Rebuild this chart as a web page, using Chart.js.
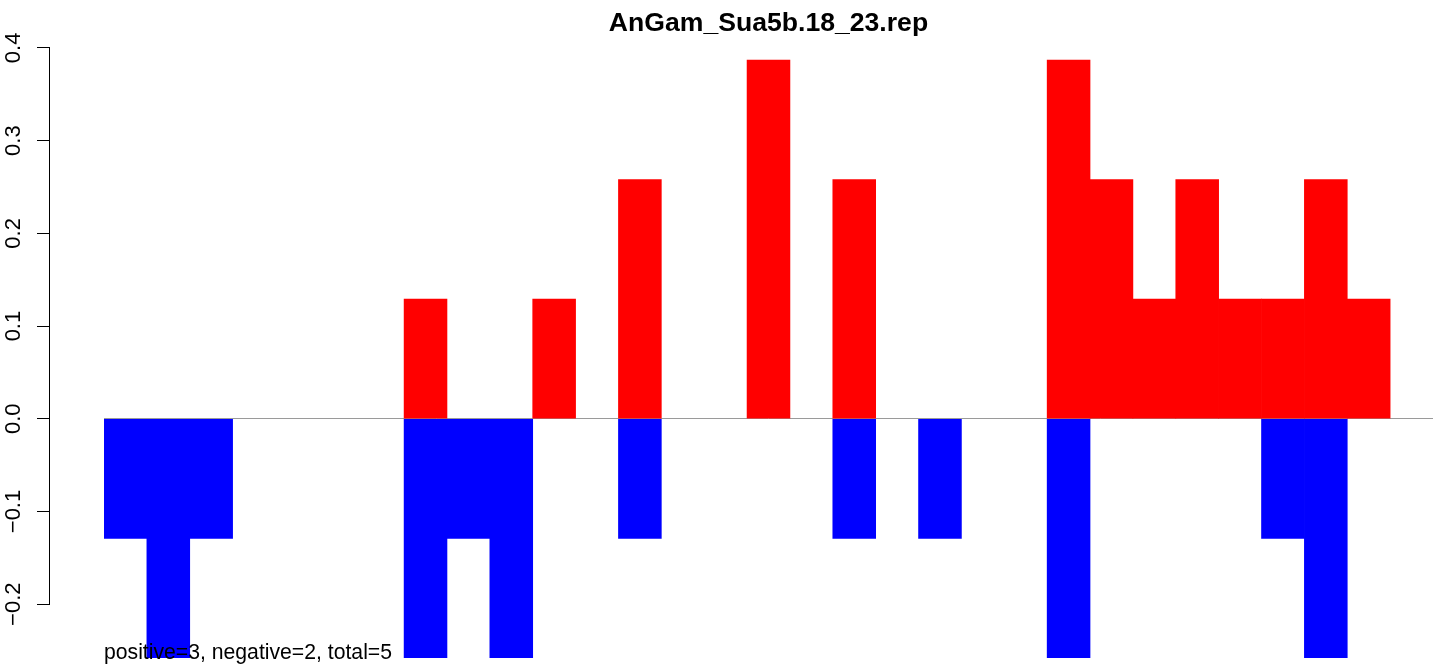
<!DOCTYPE html>
<html>
<head>
<meta charset="utf-8">
<script src="https://cdn.jsdelivr.net/npm/chart.js@4/dist/chart.umd.min.js"></script>
<style>
html, body { margin: 0; padding: 0; background: #fff; }
#wrap { width: 1433px; height: 664px; }
</style>
</head>
<body>
<div id="wrap"><canvas id="repChart"></canvas></div>
<script>
// one slot per position, last slot is empty
const slots = ['1','2','3','4','5','6','7','8','9','10','11','12','13','14','15','16',
               '17','18','19','20','21','22','23','24','25','26','27','28','29','30','31'];
const positiveValues = [0, 0, 0, 0, 0, 0, 0, 0.129, 0, 0, 0.129, 0, 0.258, 0, 0, 0.387,
                        0, 0.258, 0, 0, 0, 0, 0.387, 0.258, 0.129, 0.258, 0.129, 0.129, 0.258, 0.129, 0];
const negativeValues = [-0.129, -0.258, -0.129, 0, 0, 0, 0, -0.258, -0.129, -0.258, 0, 0, -0.129, 0, 0, 0,
                        0, -0.129, 0, -0.129, 0, 0, -0.258, 0, 0, 0, 0, -0.129, -0.258, 0, 0];
const yTicks = [-0.2, -0.1, 0, 0.1, 0.2, 0.3, 0.4];
const chartTitle = 'AnGam_Sua5b.18_23.rep';
const summaryText = 'positive=3, negative=2, total=5';

const FONT = '"Liberation Sans", Arial, Helvetica, sans-serif';

// R style axis line: only from first to last tick
const axisLine = {
    id: 'axisLine',
    afterDraw(chart) {
        const s = chart.scales.y;
        const ctx = chart.ctx;
        ctx.save();
        ctx.strokeStyle = '#000';
        ctx.lineWidth = 1;
        ctx.beginPath();
        ctx.moveTo(Math.round(s.right) - 0.5, s.getPixelForValue(yTicks[0]));
        ctx.lineTo(Math.round(s.right) - 0.5, s.getPixelForValue(yTicks[yTicks.length - 1]));
        ctx.stroke();
        ctx.restore();
    }
};

const summaryLabel = {
    id: 'summaryLabel',
    afterDatasetsDraw(chart) {
        const ctx = chart.ctx;
        ctx.save();
        ctx.fillStyle = '#000';
        ctx.font = '21.2px ' + FONT;
        ctx.textAlign = 'left';
        ctx.textBaseline = 'alphabetic';
        ctx.fillText(summaryText, chart.chartArea.left, chart.chartArea.bottom + 1);
        ctx.restore();
    }
};

new Chart(document.getElementById('repChart'), {
    type: 'bar',
    data: {
        labels: slots,
        datasets: [{
            label: 'positive',
            data: positiveValues.map(v => v === 0 ? null : v),
            backgroundColor: '#ff0000',
            borderWidth: 0,
            barPercentage: 1,
            categoryPercentage: 1,
            yAxisID: 'y'
        }, {
            label: 'negative',
            data: negativeValues.map(v => v === 0 ? null : v),
            backgroundColor: '#0000ff',
            borderWidth: 0,
            barPercentage: 1,
            categoryPercentage: 1,
            yAxisID: 'y'
        }]
    },
    options: {
        responsive: true,
        maintainAspectRatio: false,
        animation: false,
        layout: { padding: { top: 0, right: 0, bottom: 6, left: 0 } },
        plugins: {
            legend: { display: false },
            tooltip: { enabled: false },
            title: {
                display: true,
                text: chartTitle,
                fullSize: false,
                color: '#000',
                font: { family: FONT, size: 26.6, weight: 'bold' },
                padding: { top: 8, bottom: 8 }
            }
        },
        scales: {
            x: {
                display: false,
                stacked: true
            },
            y: {
                position: 'left',
                weight: 1,
                stacked: true,
                min: -0.258,
                max: 0.4,
                afterBuildTicks: s => { s.ticks = yTicks.map(v => ({ value: v })); },
                afterFit: s => { s.width = 50; s.paddingTop = 0; s.paddingBottom = 0; },
                border: { display: false },
                grid: {
                    drawOnChartArea: true,
                    tickLength: 13,
                    tickColor: '#000',
                    color: c => (c.tick && Math.abs(c.tick.value) < 1e-9) ? '#9a9a9a' : 'rgba(0,0,0,0)',
                    lineWidth: 1
                },
                ticks: {
                    color: '#000',
                    font: { family: FONT, size: 22 },
                    minRotation: 90,
                    maxRotation: 90,
                    crossAlign: 'center',
                    padding: 1,
                    callback: v => {
                        const r = Math.round(v * 10) / 10;
                        return (r < 0 ? '\u2212' : '') + Math.abs(r).toFixed(1);
                    }
                }
            },
            y2: {
                position: 'left',
                weight: 0,
                min: -0.258,
                max: 0.4,
                afterFit: s => { s.width = 54; s.paddingTop = 0; s.paddingBottom = 0; },
                border: { display: false },
                grid: { display: false },
                ticks: { display: false }
            }
        }
    },
    plugins: [axisLine, summaryLabel]
});
</script>
</body>
</html>
